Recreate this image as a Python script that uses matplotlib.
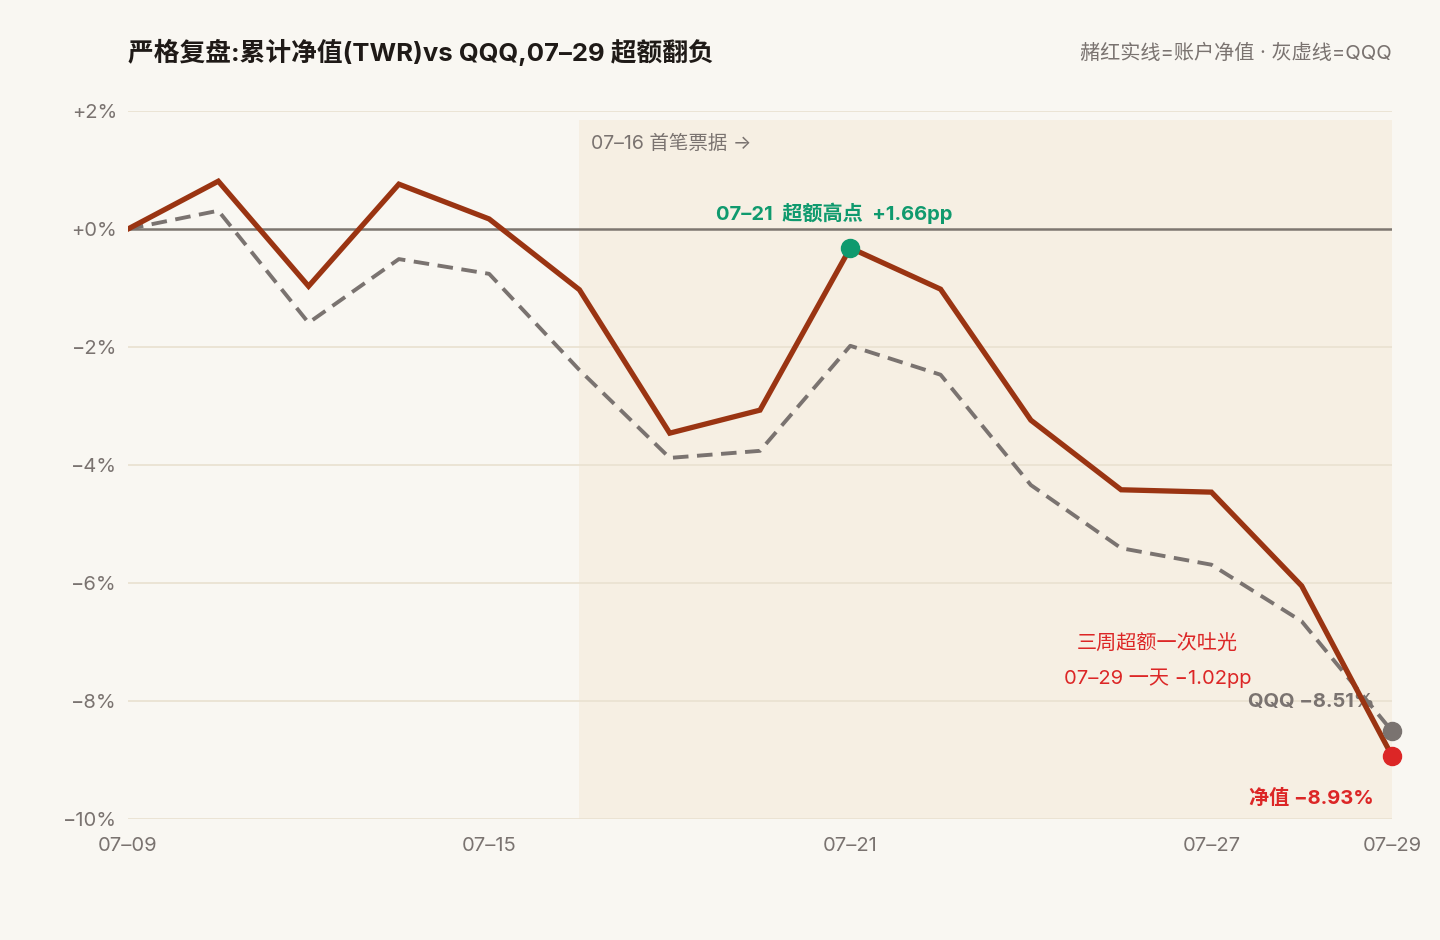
"""严格复盘: 累计净值(TWR) vs QQQ"""
import matplotlib
matplotlib.use('Agg')
import matplotlib.pyplot as plt

plt.rcParams['font.family'] = ['Inter', 'Noto Sans CJK SC', 'DejaVu Sans']

# 交易日 (index axis)
days = ['07-09', '07-10', '07-11', '07-14', '07-15', '07-16', '07-17', '07-18',
        '07-21', '07-22', '07-23', '07-24', '07-25', '07-28', '07-29']
nav = [0.00, 0.81, -0.97, 0.76, 0.17, -1.03, -3.46, -3.07,
       -0.32, -1.02, -3.24, -4.42, -4.46, -6.05, -8.93]
qqq = [0.00, 0.31, -1.59, -0.51, -0.76, -2.39, -3.88, -3.76,
       -1.98, -2.47, -4.34, -5.41, -5.69, -6.65, -8.51]
tick_pos = [0, 4, 8, 12, 14]
tick_labels = ['07–09', '07–15', '07–21', '07–27', '07–29']
y_ticks = [2, 0, -2, -4, -6, -8, -10]
y_labels = ['+2%', '+0%', '−2%', '−4%', '−6%', '−8%', '−10%']

BG = '#f9f7f2'
SHADE = '#f6efe3'
GRID = '#e9e1d0'
RUST = '#9a3412'
GRAY = '#7a7370'
GREEN = '#0f9a6e'
RED = '#dc2626'
TXT = '#7a7370'

fig = plt.figure(figsize=(14.4, 9.4), dpi=100, facecolor=BG)
ax = fig.add_axes([128 / 1440, 1 - 819 / 940, 1264 / 1440, 708 / 940])
ax.set_facecolor(BG)
x = list(range(len(days)))

ax.set_xlim(0, len(days) - 1)
ax.set_ylim(-10, 2)

# 首笔票据之后的阴影
first = days.index('07-16')
ax.axvspan(first, len(days) - 1, ymin=0, ymax=0.987, color=SHADE, lw=0, zorder=0)

for v in y_ticks:
    if v == 0:
        ax.axhline(v, color='#7d7670', lw=1.8, zorder=1)
    else:
        ax.axhline(v, color=GRID, lw=1.2, zorder=1)

ax.plot(x, qqq, color=GRAY, lw=2.8, dashes=(4, 2.2), zorder=3)
ax.plot(x, nav, color=RUST, lw=3.8, zorder=4, solid_joinstyle='miter')

peak = days.index('07-21')
ax.plot(peak, nav[peak], 'o', color=GREEN, ms=13, zorder=5)
ax.plot(x[-1], qqq[-1], 'o', color=GRAY, ms=13, zorder=5, clip_on=False)
ax.plot(x[-1], nav[-1], 'o', color=RED, ms=13, zorder=6, clip_on=False)

ax.set_xticks(tick_pos)
ax.set_xticklabels(tick_labels)
ax.set_yticks(y_ticks)
ax.set_yticklabels(y_labels)
ax.tick_params(length=0, labelsize=14.5, colors=TXT)
ax.tick_params(axis='x', pad=13)
ax.tick_params(axis='y', pad=8)
for s in ax.spines.values():
    s.set_visible(False)

# 标注
ax.text(first + 0.13, 1.45, '07–16 首笔票据 →', fontsize=14, color=TXT,
        va='center', ha='left')
ax.text(peak - 0.18, 0.26, '07–21  超额高点  +1.66pp', fontsize=14.5, color=GREEN,
        va='center', ha='center', fontweight='bold')
ax.text(11.4, -7.04, '三周超额一次吐光', fontsize=14.5, color=RED, ha='center', va='center')
ax.text(11.4, -7.62, '07–29 一天 −1.02pp', fontsize=14.5, color=RED, ha='center', va='center')
ax.text(13.8, -8.02, 'QQQ −8.51%', fontsize=14.5, color=GRAY, ha='right', va='center',
        fontweight='bold')
ax.text(13.8, -9.65, '净值 −8.93%', fontsize=14.5, color=RED, ha='right', va='center',
        fontweight='bold')

fig.text(128 / 1440, 1 - 52 / 940, '严格复盘:累计净值(TWR)vs QQQ,07–29 超额翻负',
         fontsize=18.5, fontweight='bold', color='#1f1a17', ha='left', va='center')
fig.text(1392 / 1440, 1 - 53 / 940, '赭红实线=账户净值 · 灰虚线=QQQ',
         fontsize=14.5, color=TXT, ha='right', va='center')

fig.savefig('out.png', dpi=100, facecolor=BG)
